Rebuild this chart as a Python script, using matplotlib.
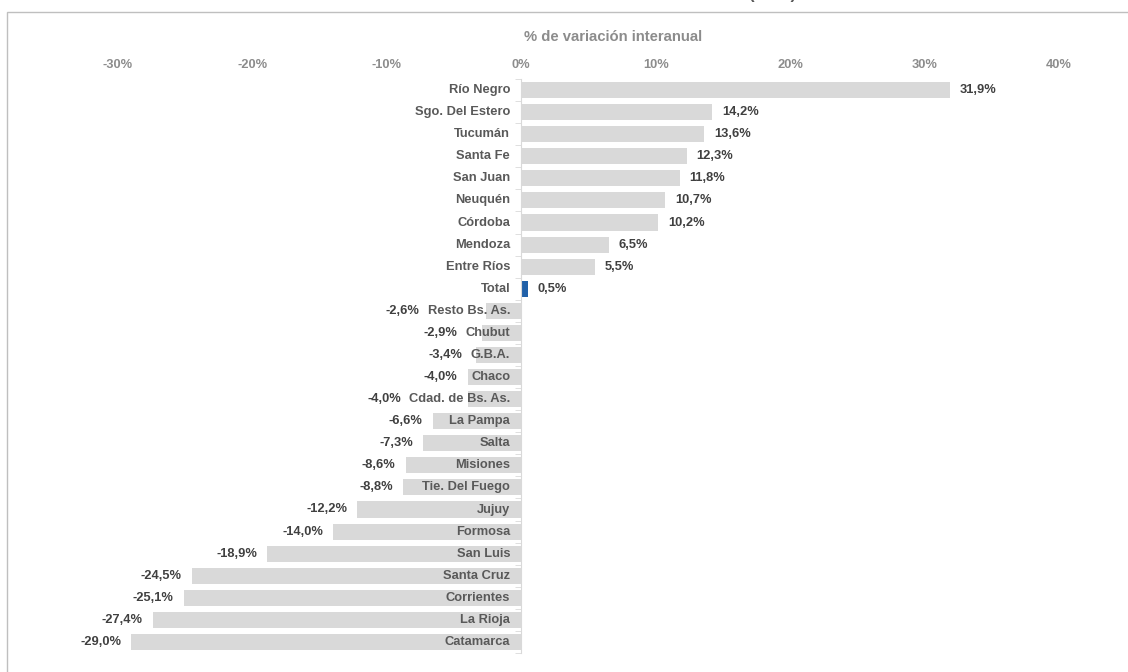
import numpy as np
import matplotlib
matplotlib.use("Agg")
import matplotlib.pyplot as plt
from matplotlib.patches import Rectangle
from matplotlib.ticker import FixedLocator

plt.rcParams["font.family"] = ["Liberation Sans", "DejaVu Sans"]
plt.rcParams["font.weight"] = "bold"

# datos
provincias = ["Río Negro", "Sgo. Del Estero", "Tucumán", "Santa Fe", "San Juan",
              "Neuquén", "Córdoba", "Mendoza", "Entre Ríos", "Total",
              "Resto Bs. As.", "Chubut", "G.B.A.", "Chaco", "Cdad. de Bs. As.",
              "La Pampa", "Salta", "Misiones", "Tie. Del Fuego", "Jujuy",
              "Formosa", "San Luis", "Santa Cruz", "Corrientes", "La Rioja",
              "Catamarca"]
variacion = [31.9, 14.2, 13.6, 12.3, 11.8, 10.7, 10.2, 6.5, 5.5, 0.5,
             -2.6, -2.9, -3.4, -4.0, -4.0, -6.6, -7.3, -8.6, -8.8, -12.2,
             -14.0, -18.9, -24.5, -25.1, -27.4, -29.0]
ticks = [-30, -20, -10, 0, 10, 20, 30, 40]
titulo_eje = "% de variación interanual"

GRIS_BARRA = "#d9d9d9"
AZUL = "#2060a8"
FS = 9.3

W, H = 1128, 672
fig = plt.figure(figsize=(W / 100, H / 100), dpi=100)
ax = fig.add_axes([118 / W, 1 - 653 / H, 941 / W, 574 / H])

y = np.arange(len(provincias))
colores = [AZUL if p == "Total" else GRIS_BARRA for p in provincias]
ax.barh(y, variacion, height=0.73, color=colores, zorder=2)

ax.set_xlim(-30, 40)
ax.set_ylim(len(provincias) - 0.5, -0.5)

# eje x arriba
ax.xaxis.tick_top()
ax.set_xticks(ticks)
ax.set_xticklabels([f"{t}%" for t in ticks], fontsize=FS, color="#8c8c8c",
                   fontweight="bold")
ax.tick_params(axis="x", length=0, pad=6)
ax.xaxis.set_label_position("top")
ax.set_xlabel(titulo_eje, fontsize=10.7, color="#8c8c8c", fontweight="bold",
              va="center")
ax.xaxis.set_label_coords((613 - 118) / 941, 1 + (79 - 37) / 574)

# eje y en 0 con marcas entre categorias
for s in ["top", "right", "bottom"]:
    ax.spines[s].set_visible(False)
ax.spines["left"].set_position(("data", 0))
ax.spines["left"].set_color(GRIS_BARRA)
ax.spines["left"].set_zorder(3)
ax.set_yticks([])
ax.yaxis.set_minor_locator(FixedLocator(np.arange(len(provincias) + 1) - 0.5))
ax.tick_params(axis="y", which="minor", length=4, color=GRIS_BARRA, direction="out")

# etiquetas de categoria
cat_txt = []
for i, p in enumerate(provincias):
    t = ax.annotate(p, xy=(0, i), xytext=(-8, 0), textcoords="offset points",
                    ha="right", va="center", fontsize=FS, color="#595959", zorder=4)
    cat_txt.append(t)

fig.canvas.draw()
rend = fig.canvas.get_renderer()
inv = ax.transData.inverted()

# etiquetas de valor
for i, v in enumerate(variacion):
    lbl = f"{v:.1f}%".replace(".", ",")
    bx, by = ax.transData.transform((v, i))
    if v >= 0:
        ax.annotate(lbl, xy=(v, i), xytext=(7, 0), textcoords="offset points",
                    ha="left", va="center", fontsize=FS, color="#404040", zorder=4)
    else:
        x0 = cat_txt[i].get_window_extent(rend).x0
        xr = min(bx - 10, x0 - 8)
        xd = inv.transform((xr, by))[0]
        ax.text(xd, i, lbl, ha="right", va="center", fontsize=FS,
                color="#404040", zorder=4)

# recuadro exterior y titulo recortado
fig.patches.append(Rectangle((7 / W, -0.2), 1.2, 1.2 - 12 / H,
                             transform=fig.transFigure, fill=False,
                             edgecolor="#bfbfbf", linewidth=1))
fig.text(772 / W, 1.0 + 1 / H, "(2023)", ha="center", va="baseline",
         fontsize=12, color="#595959")

fig.savefig("out.png", dpi=100)
